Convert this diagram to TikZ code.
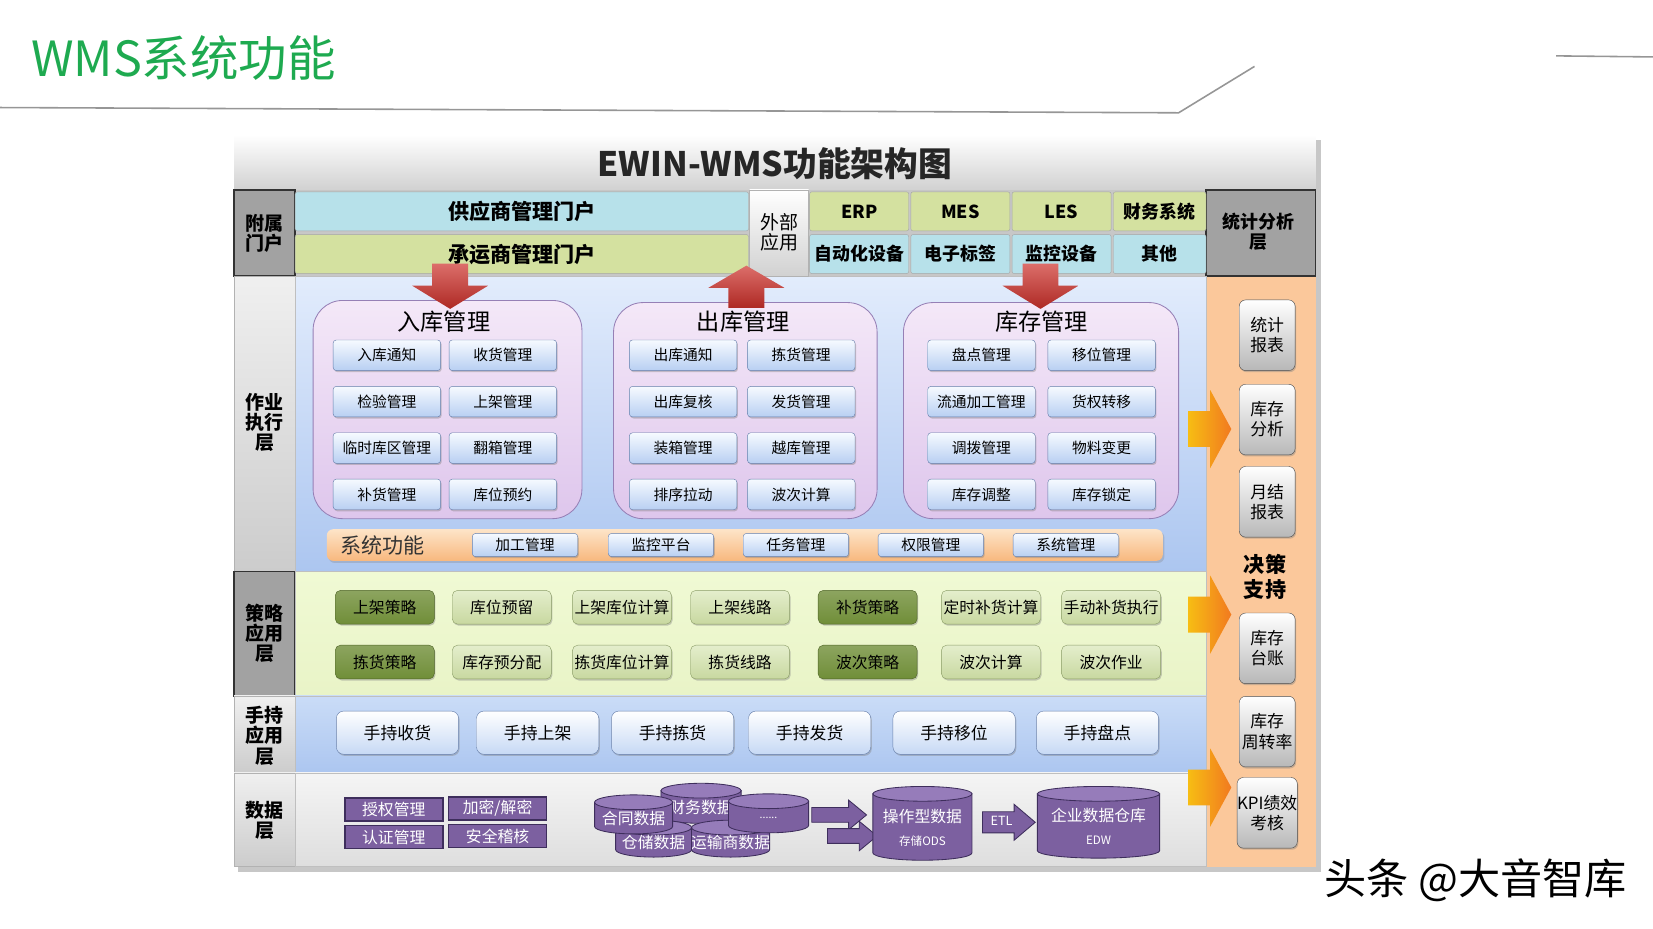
\documentclass[tikz,border=0pt]{standalone}
\usepackage{fontspec}
\setmainfont{Noto Sans CJK SC}
\usepackage{xcolor}
\usetikzlibrary{shadows}

\definecolor{wmsgruen}{RGB}{30,170,80}
\definecolor{linie}{RGB}{150,150,150}
\definecolor{dunkelgrau}{RGB}{162,162,162}
\definecolor{tuerkis}{RGB}{183,225,234}
\definecolor{oliv}{RGB}{212,225,160}
\definecolor{pfirsich}{RGB}{251,200,155}
\definecolor{lila}{RGB}{124,96,160}
\definecolor{lilahell}{RGB}{150,124,186}
\definecolor{lilarand}{RGB}{62,46,92}
\definecolor{rotpf}{RGB}{205,48,42}
\definecolor{orangepf}{RGB}{240,135,35}
\definecolor{blauoben}{RGB}{226,236,252}
\definecolor{blauunten}{RGB}{172,198,240}
\definecolor{rosa}{RGB}{244,232,248}
\definecolor{rosadunkel}{RGB}{222,198,236}
\definecolor{rosarand}{RGB}{150,128,182}
\definecolor{kastenoben}{RGB}{246,250,255}
\definecolor{kastenunten}{RGB}{184,207,242}
\definecolor{kastenrand}{RGB}{100,125,170}
\definecolor{gruendunkel}{RGB}{112,142,56}
\definecolor{strathell}{RGB}{228,238,204}
\definecolor{stratmittel}{RGB}{200,216,160}
\definecolor{stratrand}{RGB}{140,158,104}
\definecolor{gelbgruen}{RGB}{240,250,212}
\definecolor{handoben}{RGB}{202,220,247}
\definecolor{handunten}{RGB}{172,198,240}
\definecolor{sysoben}{RGB}{253,228,200}
\definecolor{sysunten}{RGB}{248,184,126}

\begin{document}
\begin{tikzpicture}[x=1pt,y=-1pt,>=latex,
  spalte/.style={font=\fontsize{18}{19}\selectfont\bfseries,align=center},
  portal/.style={draw=black!35,rounded corners=2pt,minimum width=430,minimum height=37,inner sep=0pt,font=\fontsize{20}{22}\selectfont\bfseries},
  extern/.style={draw=black!35,rounded corners=2pt,minimum width=94,minimum height=37,inner sep=0pt,font=\fontsize{17}{19}\selectfont\bfseries},
  gruppe/.style={draw=rosarand,thick,rounded corners=28pt,top color=rosa,bottom color=rosadunkel},
  gruppentitel/.style={font=\fontsize{22}{24}\selectfont},
  kasten/.style={draw=kastenrand,rounded corners=3pt,top color=kastenoben,bottom color=kastenunten,minimum width=102,minimum height=29,inner sep=1pt,font=\fontsize{14}{16}\selectfont,drop shadow={shadow xshift=1pt,shadow yshift=-1.5pt,opacity=.4}},
  syskasten/.style={kasten,minimum width=100,minimum height=22},
  strat/.style={draw=stratrand,rounded corners=5pt,top color=strathell,bottom color=stratmittel,minimum width=94,minimum height=32,inner sep=1pt,font=\fontsize{15}{17}\selectfont,drop shadow={shadow xshift=1pt,shadow yshift=-1.5pt,opacity=.4}},
  stratdunkel/.style={strat,draw=gruendunkel!70!black,top color=gruendunkel!80!white,bottom color=gruendunkel},
  hand/.style={draw=kastenrand,rounded corners=7pt,top color=white,bottom color=kastenunten!80,minimum width=116,minimum height=41,font=\fontsize{16}{18}\selectfont,drop shadow={shadow xshift=1pt,shadow yshift=-1.5pt,opacity=.4}},
  lilakasten/.style={draw=lilarand,line width=1.5,fill=lila,minimum width=93,minimum height=22,inner sep=0pt,text=white,font=\fontsize{15}{17}\selectfont},
  dbtext/.style={text=white,font=\fontsize{15}{17}\selectfont,align=center},
  rechts/.style={draw=black!70,rounded corners=6pt,top color=white,bottom color=black!28,minimum width=53,minimum height=67,inner sep=0pt,align=center,font=\fontsize{16}{19}\selectfont,drop shadow={shadow xshift=1pt,shadow yshift=-1.5pt,opacity=.4}},
  rotpfeil/.style={top color=rotpf!70!white,bottom color=rotpf!85!black},
  orangepfeil/.style={left color=orangepf!55!yellow,right color=orangepf!90!red},
  lilapfeil/.style={fill=lila,draw=lilarand,thick}]

\useasboundingbox (0,0) rectangle (1568,881);

%Kopfzeile
\node[anchor=west,text=wmsgruen,font=\fontsize{46}{48}\selectfont] (kopf) at (26,55) {WMS系统功能};
\draw[linie,line width=1.5] (0,102) -- (1118,107) -- (1190,63);
\draw[linie,line width=1.5] (1476,53) -- (1568,54);

%Rahmen und Titel
\fill[black!22] (226,133) rectangle (1253,827);
\shade[top color=white,bottom color=black!18] (222,128) rectangle (1248,180);
\node[font=\fontsize{32}{34}\selectfont\bfseries,text=black!85] (titel) at (735,155) {EWIN-WMS功能架构图};

%Linke Spalte
\draw[fill=dunkelgrau,draw=black!80,line width=1.5] (222,180) rectangle (280,262);
\node[spalte] (fu) at (251,221) {附属\\门户};
\shadedraw[top color=black!6,bottom color=black!20,draw=black!30] (222,262) rectangle (280,542);
\node[spalte] (zy) at (251,401) {作业\\执行\\层};
\draw[fill=dunkelgrau,draw=black!80,line width=1.5] (222,542) rectangle (280,660);
\node[spalte] (cl) at (251,601) {策略\\应用\\层};
\shadedraw[top color=black!6,bottom color=black!20,draw=black!30] (222,660) rectangle (280,733);
\node[spalte] (sc) at (251,698) {手持\\应用\\层};
\shadedraw[top color=black!6,bottom color=black!20,draw=black!30] (222,733) rectangle (280,822);
\node[spalte] (sj) at (251,778) {数据\\层};

%Rechte Spalte
\fill[pfirsich] (1144,262) rectangle (1248,822);
\draw[fill=dunkelgrau,draw=black!80,line width=1.5] (1144,180) rectangle (1248,262);
\node[font=\fontsize{17}{19}\selectfont\bfseries,align=center] (tj) at (1194,220) {统计分析\\层};

%Schichten
\shadedraw[top color=blauoben,bottom color=blauunten,draw=black!25] (280,262) rectangle (1144,542);
\shadedraw[top color=gelbgruen,bottom color=gelbgruen!75!oliv,draw=black!25] (280,542) rectangle (1144,660);
\shadedraw[top color=handoben,bottom color=handunten,draw=black!25] (280,660) rectangle (1144,733);
\shadedraw[top color=black!4,bottom color=black!13,draw=black!25] (280,733) rectangle (1144,822);

%Portale
\node[portal,fill=tuerkis] (lief) at (495,200.5) {供应商管理门户};
\node[portal,fill=oliv] (spedi) at (495,241) {承运商管理门户};

%Externe Anwendungen
\shadedraw[top color=white,bottom color=black!18,draw=black!30] (711,180) rectangle (767,262);
\node[font=\fontsize{18}{19}\selectfont,align=center] (ext) at (739,220) {外部\\应用};
\node[extern,fill=oliv] (erp) at (815,200.5) {ERP};
\node[extern,fill=oliv] (mes) at (911,200.5) {MES};
\node[extern,fill=oliv] (les) at (1007,200.5) {LES};
\node[extern,fill=oliv,minimum width=88] (fin) at (1100,200.5) {财务系统};
\node[extern,fill=tuerkis] (auto) at (815,241) {自动化设备};
\node[extern,fill=tuerkis] (etik) at (911,241) {电子标签};
\node[extern,fill=tuerkis] (ueb) at (1007,241) {监控设备};
\node[extern,fill=tuerkis,minimum width=88] (sonst) at (1100,241) {其他};

%Wareneingang
\draw[gruppe] (297,285) rectangle (552,492);
\node[gruppentitel] (ein) at (421,305) {入库管理};
\node[kasten] (ein1) at (367,337) {入库通知};
\node[kasten] (ein2) at (477,337) {收货管理};
\node[kasten] (ein3) at (367,381) {检验管理};
\node[kasten] (ein4) at (477,381) {上架管理};
\node[kasten] (ein5) at (367,425) {临时库区管理};
\node[kasten] (ein6) at (477,425) {翻箱管理};
\node[kasten] (ein7) at (367,469) {补货管理};
\node[kasten] (ein8) at (477,469) {库位预约};

%Warenausgang
\draw[gruppe] (582,287) rectangle (832,492);
\node[gruppentitel] (aus) at (705,305) {出库管理};
\node[kasten] (aus1) at (648,337) {出库通知};
\node[kasten] (aus2) at (760,337) {拣货管理};
\node[kasten] (aus3) at (648,381) {出库复核};
\node[kasten] (aus4) at (760,381) {发货管理};
\node[kasten] (aus5) at (648,425) {装箱管理};
\node[kasten] (aus6) at (760,425) {越库管理};
\node[kasten] (aus7) at (648,469) {排序拉动};
\node[kasten] (aus8) at (760,469) {波次计算};

%Bestand
\draw[gruppe] (857,287) rectangle (1118,492);
\node[gruppentitel] (bst) at (988,305) {库存管理};
\node[kasten] (bst1) at (931,337) {盘点管理};
\node[kasten] (bst2) at (1045,337) {移位管理};
\node[kasten] (bst3) at (931,381) {流通加工管理};
\node[kasten] (bst4) at (1045,381) {货权转移};
\node[kasten] (bst5) at (931,425) {调拨管理};
\node[kasten] (bst6) at (1045,425) {物料变更};
\node[kasten] (bst7) at (931,469) {库存调整};
\node[kasten] (bst8) at (1045,469) {库存锁定};

%rote Pfeile
\shade[rotpfeil] (410,250) -- (444,250) -- (444,271) -- (463,271) -- (427,293) -- (391,271) -- (410,271) -- cycle;
\shade[rotpfeil] (708,252) -- (744,273) -- (725,273) -- (725,292) -- (691,292) -- (691,273) -- (672,273) -- cycle;
\shade[rotpfeil] (970,250) -- (1004,250) -- (1004,271) -- (1023,271) -- (987,293) -- (951,271) -- (970,271) -- cycle;

%Systemfunktionen
\path[top color=sysoben,bottom color=sysunten,rounded corners=6pt,drop shadow={shadow xshift=1.5pt,shadow yshift=-2pt,opacity=.3}] (310,502) rectangle (1103,532);
\node[font=\fontsize{20}{22}\selectfont,text=black!80] (sysf) at (363,517) {系统功能};
\node[syskasten] (sys1) at (498,517) {加工管理};
\node[syskasten] (sys2) at (627,517) {监控平台};
\node[syskasten] (sys3) at (755,517) {任务管理};
\node[syskasten] (sys4) at (883,517) {权限管理};
\node[syskasten] (sys5) at (1011,517) {系统管理};

%Strategien
\node[stratdunkel] (str1) at (365,576) {上架策略};
\node[strat] (str2) at (476,576) {库位预留};
\node[strat] (str3) at (590,576) {上架库位计算};
\node[strat] (str4) at (702,576) {上架线路};
\node[stratdunkel] (str5) at (823,576) {补货策略};
\node[strat] (str6) at (940,576) {定时补货计算};
\node[strat] (str7) at (1054,576) {手动补货执行};
\node[stratdunkel] (str8) at (365,628) {拣货策略};
\node[strat] (str9) at (476,628) {库存预分配};
\node[strat] (str10) at (590,628) {拣货库位计算};
\node[strat] (str11) at (702,628) {拣货线路};
\node[stratdunkel] (str12) at (823,628) {波次策略};
\node[strat] (str13) at (940,628) {波次计算};
\node[strat] (str14) at (1054,628) {波次作业};

%Handgeraete
\node[hand] (hand1) at (377,695) {手持收货};
\node[hand] (hand2) at (510,695) {手持上架};
\node[hand] (hand3) at (638,695) {手持拣货};
\node[hand] (hand4) at (768,695) {手持发货};
\node[hand] (hand5) at (905,695) {手持移位};
\node[hand] (hand6) at (1041,695) {手持盘点};

%Datenschicht
\node[lilakasten] (sich1) at (373.5,768) {授权管理};
\node[lilakasten] (sich2) at (373.5,794) {认证管理};
\node[lilakasten] (sich3) at (472,767) {加密/解密};
\node[lilakasten] (sich4) at (472,793) {安全稽核};

\newcommand\zylinder[6]{% Name, Mitte x, oben y, halbe Breite, Hoehe, Text
  \filldraw[fill=lila,draw=lilarand,thick] (#2-#4,#3) -- (#2-#4,#3+#5) arc[start angle=180,end angle=360,x radius=#4pt,y radius=7pt] -- (#2+#4,#3) -- cycle;
  \filldraw[fill=lilahell,draw=lilarand,thick] (#2,#3) ellipse[x radius=#4pt,y radius=7pt];
  \node[dbtext] (#1) at (#2,#3+#5/2+4) {#6};}

\zylinder{cw}{665}{750}{38}{24}{财务数据}
\zylinder{ys}{693}{785}{37}{21}{运输商数据}
\zylinder{cc}{620}{785}{36}{21}{仓储数据}
\zylinder{ht}{601}{761}{37}{23}{合同数据}
\zylinder{mehr}{729}{760}{38}{23}{\fontsize{10}{12}\selectfont ......}

\fill[lilapfeil] (770,766) -- (805,766) -- (805,759) -- (822,773) -- (805,787) -- (805,780) -- (770,780) -- cycle;
\fill[lilapfeil] (785,786) -- (815,786) -- (815,779) -- (832,793) -- (815,807) -- (815,800) -- (785,800) -- cycle;

\zylinder{ods}{875}{753}{47}{56}{操作型数据\\[5pt]{\fontsize{11}{12}\selectfont 存储ODS}}

\fill[lilapfeil] (932,770) -- (962,770) -- (962,763) -- (982,780) -- (962,797) -- (962,790) -- (932,790) -- cycle;
\node[text=white,font=\fontsize{12}{14}\selectfont] (etl) at (950,779) {ETL};

\zylinder{edw}{1042}{753}{58}{54}{企业数据仓库\\[5pt]{\fontsize{11}{12}\selectfont EDW}}

%Entscheidungsunterstuetzung
\node[rechts] (r1) at (1202,318) {统计\\报表};
\node[rechts] (r2) at (1202,398) {库存\\分析};
\node[rechts] (r3) at (1202,476) {月结\\报表};
\node[font=\fontsize{20}{24}\selectfont\bfseries,align=center] (jc) at (1200,547) {决策\\支持};
\node[rechts] (r4) at (1202,615) {库存\\台账};
\node[rechts] (r5) at (1202,694) {库存\\周转率};
\node[rechts] (r6) at (1202,771) {KPI绩效\\考核};

\shade[orangepfeil] (1127,390) -- (1148,390) -- (1148,370) -- (1168,407) -- (1148,444) -- (1148,424) -- (1127,424) -- cycle;
\shade[orangepfeil] (1127,566) -- (1148,566) -- (1148,546) -- (1168,583) -- (1148,620) -- (1148,600) -- (1127,600) -- cycle;
\shade[orangepfeil] (1127,730) -- (1148,730) -- (1148,710) -- (1168,747) -- (1148,784) -- (1148,764) -- (1127,764) -- cycle;

%Wasserzeichen
\node[font=\fontsize{40}{42}\selectfont] (wz) at (1400,835) {头条 @大音智库};

\end{tikzpicture}
\end{document}
